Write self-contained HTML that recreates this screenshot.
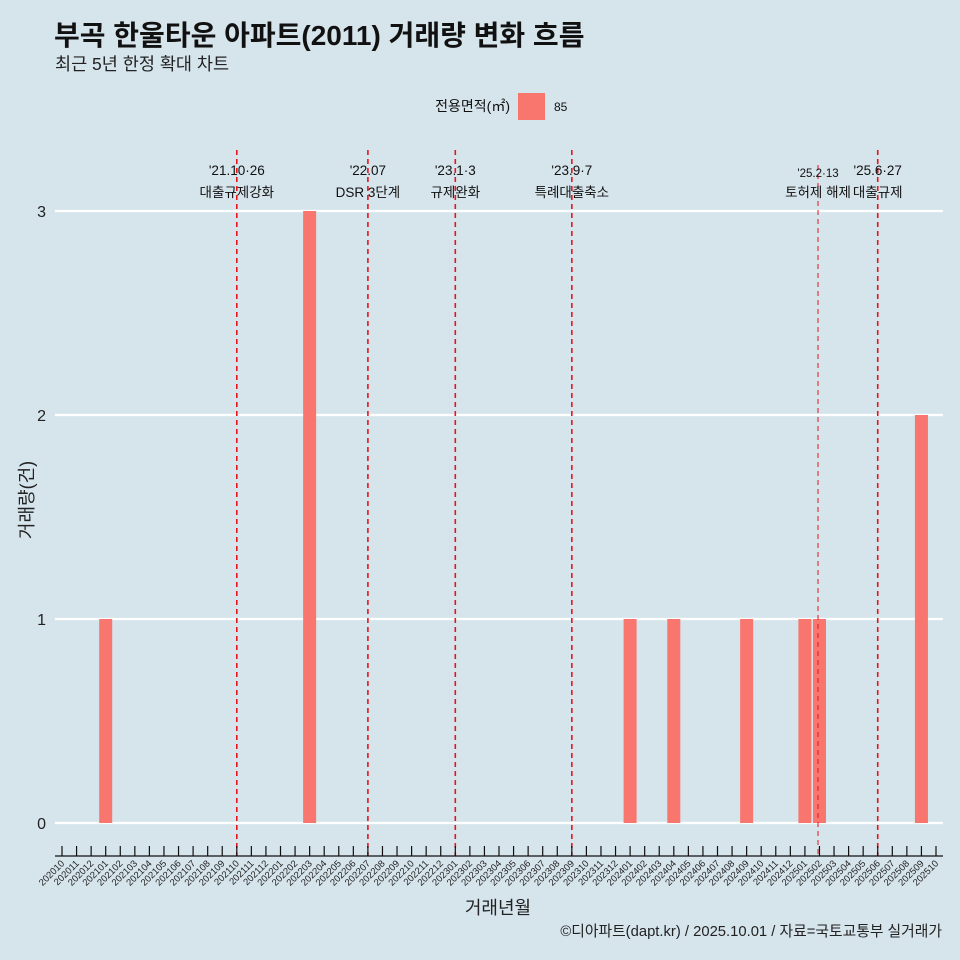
<!DOCTYPE html>
<html><head><meta charset="utf-8">
<style>
body{margin:0;background:#d6e4ec;}
svg{display:block;font-family:"Liberation Sans","Noto Sans CJK KR",sans-serif;}
</style></head>
<body>
<svg id="c" width="960" height="960" viewBox="0 0 960 960">
<rect width="960" height="960" fill="#d6e4ec"/>
<text x="54" y="45" font-size="28" font-weight="bold" fill="#111">부곡 한울타운 아파트(2011) 거래량 변화 흐름</text>
<text x="55" y="70" font-size="17.5" fill="#222">최근 5년 한정 확대 차트</text>
<g>
<text x="510" y="111" font-size="14" text-anchor="end" fill="#111">전용면적(㎡)</text>
<rect x="518" y="93" width="27" height="27" fill="#f8766d"/>
<text x="554" y="111" font-size="12" fill="#111">85</text>
</g>
<g id="grid"></g><g id="bars"></g><g id="events"></g><g id="xaxis"></g>
<text x="33" y="500" font-size="18" fill="#222" text-anchor="middle" transform="rotate(-90 33 500)">거래량(건)</text>
<text x="498" y="914" font-size="18" fill="#222" text-anchor="middle">거래년월</text>
<text x="942" y="936" font-size="14.8" fill="#222" text-anchor="end">©디아파트(dapt.kr) / 2025.10.01 / 자료=국토교통부 실거래가</text>
</svg>
<script>
const categories=[];for(let y=2020,m=10;y*100+m<=202510;){categories.push(String(y*100+m));m++;if(m>12){m=1;y++;}}
const barMonths=["202101","202203","202401","202404","202409","202501","202502","202509"];
const barValues=[1,3,1,1,1,1,1,2];
const yTicks=[0,1,2,3];
const eventPos=[12,21,27,35,51.9,56];
const eventDates=["'21.10·26","'22.07","'23.1·3","'23.9·7","'25.2·13","'25.6·27"];
const eventLabels=["대출규제강화","DSR 3단계","규제완화","특례대출축소","토허제 해제","대출규제"];
const NS="http://www.w3.org/2000/svg";
const x=i=>62+i*(936-62)/(categories.length-1);
const y=v=>823-v*204;
function mk(t,a,p){const e=document.createElementNS(NS,t);for(const k in a)e.setAttribute(k,a[k]);p.appendChild(e);return e;}
const G=document.getElementById('grid'),B=document.getElementById('bars'),E=document.getElementById('events'),X=document.getElementById('xaxis');
yTicks.forEach(v=>{
 const l=mk('line',{x1:55,x2:943,y1:y(v),y2:y(v),stroke:'#fff','stroke-width':2.2},G);
 
 
 const t=mk('text',{x:46,y:y(v)+6,'font-size':16,'text-anchor':'end',fill:'#222'},G);t.textContent=v;
 
 
});
barMonths.forEach((m,k)=>{
 const i=categories.indexOf(m);
 const r=mk('rect',{x:x(i)-6.5,y:y(barValues[k]),width:13,height:y(0)-y(barValues[k]),fill:'#f8766d'},B);
 
 
});
eventPos.forEach((p,k)=>{
 const small=k===4;
 const l=mk('line',{x1:x(p),x2:x(p),y1:small?165:150,y2:856,stroke:'#e8141c','stroke-width':small?1:1.6,'stroke-dasharray':'5,4'},E);
 
 
 const t1=mk('text',{x:x(p),y:small?177:175,'font-size':small?11.5:13.5,'text-anchor':'middle',fill:'#111'},E);t1.textContent=eventDates[k];
 
 
 const t2=mk('text',{x:x(p),y:197,'font-size':13.5,'text-anchor':'middle',fill:'#111'},E);t2.textContent=eventLabels[k];
 
 
});
const ax=mk('line',{x1:55,x2:943,y1:856,y2:856,stroke:'#111','stroke-width':1.3},X);


categories.forEach((c,i)=>{
 mk('line',{x1:x(i),x2:x(i),y1:846,y2:856,stroke:'#111','stroke-width':1.2},X);
 const t=mk('text',{x:x(i)+3,y:864,'font-size':9.5,'text-anchor':'end',fill:'#222',transform:`rotate(-45 ${x(i)+3} 864)`},X);t.textContent=c;
 
 
});
</script>
</body></html>
